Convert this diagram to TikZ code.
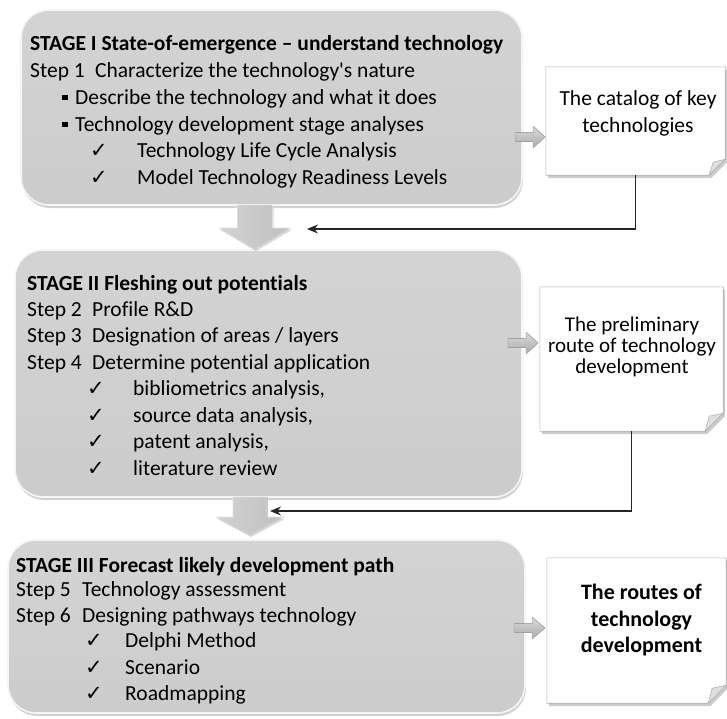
\documentclass[tikz,border=0pt]{standalone}
\usepackage{fontspec}
\setmainfont{Carlito}[Ligatures=NoCommon]
\newfontfamily\symfont{DejaVu Sans}
\usetikzlibrary{calc,arrows.meta,shapes,shadows,backgrounds,positioning}

\newcommand{\chk}{{\symfont\fontsize{21}{21}\selectfont ✓}}
\newcommand{\sqbullet}{\rule[4pt]{5.5pt}{5.5pt}}

\tikzset{
  stagebox/.style={rectangle, rounded corners=28pt, draw=gray!8, line width=1.6pt,
    top color=gray!34, bottom color=gray!40, inner sep=0pt,
    drop shadow={opacity=0.35, shadow xshift=1pt, shadow yshift=-3pt}},
  txt/.style={anchor=base west, inner sep=0pt, font=\fontsize{21.5}{24}\selectfont},
  docnode/.style={rectangle, inner sep=0pt},
  docpage/.style={fill=white, draw=gray!60, line width=0.6pt,
    drop shadow={opacity=0.4, shadow xshift=2pt, shadow yshift=-3pt}},
  doctxt/.style={align=center, inner sep=0pt},
  fold/.style={fill=gray!25, draw=gray!60, line width=0.6pt},
  smallarrow/.style={draw=gray!70, line width=0.5pt, top color=gray!30, bottom color=gray!65},
  bigarrow/.style={draw=gray!25, line width=0.6pt, left color=gray!35, right color=gray!50,
    drop shadow={opacity=0.3, shadow xshift=1pt, shadow yshift=-2pt}},
  link/.style={draw=black!85, line width=1.3pt, -{Stealth[length=11pt,width=9pt]}}
}

\begin{document}
\begin{tikzpicture}[x=1pt, y=-1pt]
  \useasboundingbox (0,0) rectangle (727,718);

  % stage boxes
  \node[stagebox, minimum width=501pt, minimum height=195pt] (stage1) at (271.5,107.5) {};
  \node[stagebox, minimum width=507pt, minimum height=247pt] (stage2) at (268.5,373.5) {};
  \node[stagebox, minimum width=517pt, minimum height=173pt] (stage3) at (266.5,626.5) {};

  % stage I
  \node[txt] (s1l1) at (30,50) {\bfseries STAGE I State-of-emergence -- understand technology};
  \node[txt] (s1l2) at (30,77) {\makebox[65pt][l]{Step 1}Characterize the technology\textquotesingle s nature};
  \node[txt] (s1l3) at (62,104) {\makebox[13pt][l]{\sqbullet}Describe the technology and what it does};
  \node[txt] (s1l4) at (62,131) {\makebox[13pt][l]{\sqbullet}Technology development stage analyses};
  \node[txt] (s1l5) at (90,157) {\makebox[47pt][l]{\chk}Technology Life Cycle Analysis};
  \node[txt] (s1l6) at (90,184) {\makebox[47pt][l]{\chk}Model Technology Readiness Levels};

  % stage II
  \node[txt] (s2l1) at (27,290) {\bfseries STAGE II Fleshing out potentials};
  \node[txt] (s2l2) at (27,316) {\makebox[65pt][l]{Step 2}Profile R\&D};
  \node[txt] (s2l3) at (27,342) {\makebox[65pt][l]{Step 3}Designation of areas / layers};
  \node[txt] (s2l4) at (27,369) {\makebox[65pt][l]{Step 4}Determine potential application};
  \node[txt] (s2l5) at (87,395) {\makebox[46pt][l]{\chk}bibliometrics analysis,};
  \node[txt] (s2l6) at (87,422) {\makebox[46pt][l]{\chk}source data analysis,};
  \node[txt] (s2l7) at (87,448) {\makebox[46pt][l]{\chk}patent analysis,};
  \node[txt] (s2l8) at (87,475) {\makebox[46pt][l]{\chk}literature review};

  % stage III
  \node[txt] (s3l1) at (16,572) {\bfseries STAGE III Forecast likely development path};
  \node[txt] (s3l2) at (16,596) {\makebox[66pt][l]{Step 5}Technology assessment};
  \node[txt] (s3l3) at (16,622) {\makebox[66pt][l]{Step 6}Designing pathways technology};
  \node[txt] (s3l4) at (85,647) {\makebox[40pt][l]{\chk}Delphi Method};
  \node[txt] (s3l5) at (85,674) {\makebox[40pt][l]{\chk}Scenario};
  \node[txt] (s3l6) at (85,700) {\makebox[40pt][l]{\chk}Roadmapping};

  % outputs
  \node[docnode, minimum width=179pt, minimum height=108pt] (doc1) at (635.5,121) {};
  \node[docnode, minimum width=183pt, minimum height=144pt] (doc2) at (631.5,359) {};
  \node[docnode, minimum width=179pt, minimum height=145pt] (doc3) at (636.5,630.5) {};
  \begin{scope}[on background layer]
    \filldraw[docpage] (doc1.north west) -- (doc1.north east) -- ([shift={(0,-16)}]doc1.south east)
      -- ([shift={(-16,0)}]doc1.south east) -- (doc1.south west) -- cycle;
    \filldraw[docpage] (doc2.north west) -- (doc2.north east) -- ([shift={(0,-18)}]doc2.south east)
      -- ([shift={(-18,0)}]doc2.south east) -- (doc2.south west) -- cycle;
    \filldraw[docpage] (doc3.north west) -- (doc3.north east) -- ([shift={(0,-18)}]doc3.south east)
      -- ([shift={(-18,0)}]doc3.south east) -- (doc3.south west) -- cycle;
  \end{scope}
  \filldraw[fold] ([shift={(-16,0)}]doc1.south east) -- ([shift={(0,-16)}]doc1.south east)
    -- ([shift={(-12,-13)}]doc1.south east) -- cycle;
  \filldraw[fold] ([shift={(-18,0)}]doc2.south east) -- ([shift={(0,-18)}]doc2.south east)
    -- ([shift={(-14,-15)}]doc2.south east) -- cycle;
  \filldraw[fold] ([shift={(-18,0)}]doc3.south east) -- ([shift={(0,-18)}]doc3.south east)
    -- ([shift={(-14,-15)}]doc3.south east) -- cycle;

  \node[doctxt, font=\fontsize{21.5}{27}\selectfont] (doc1txt) at (638,113.5) {The catalog of key\\technologies};
  \node[doctxt, font=\fontsize{21}{21}\selectfont] (doc2txt) at (632,347) {The preliminary\\route of technology\\development};
  \node[doctxt, font=\fontsize{22}{26.5}\selectfont\bfseries] (doc3txt) at (641.5,620) {The routes of\\technology\\development};

  % arrows
  \coordinate (a1) at (515,137);
  \coordinate (a2) at (508,343);
  \coordinate (a3) at (514,628);
  \filldraw[smallarrow, shift={(a1)}] (0,-4.5) -- (18,-4.5) -- (18,-11) -- (30,0) -- (18,11) -- (18,4.5) -- (0,4.5) -- cycle;
  \filldraw[smallarrow, shift={(a2)}] (0,-4.5) -- (18,-4.5) -- (18,-11) -- (30,0) -- (18,11) -- (18,4.5) -- (0,4.5) -- cycle;
  \filldraw[smallarrow, shift={(a3)}] (0,-4.5) -- (18,-4.5) -- (18,-11) -- (31,0) -- (18,11) -- (18,4.5) -- (0,4.5) -- cycle;

  \coordinate (d1) at (255,205);
  \coordinate (d2) at (250,497);
  \filldraw[bigarrow, shift={(d1)}] (-17.5,0) -- (17.5,0) -- (17.5,23) -- (35.5,23) -- (0,44)
    -- (-35.5,23) -- (-17.5,23) -- cycle;
  \filldraw[bigarrow, shift={(d2)}] (-17,0) -- (17,0) -- (17,20) -- (33.5,20) -- (0,38)
    -- (-33.5,20) -- (-17,20) -- cycle;

  \coordinate (in1) at (307,229);
  \coordinate (in2) at (270,511);
  \draw[link] (doc1.south) |- (in1);
  \draw[link] (doc2.south) |- (in2);
\end{tikzpicture}
\end{document}
